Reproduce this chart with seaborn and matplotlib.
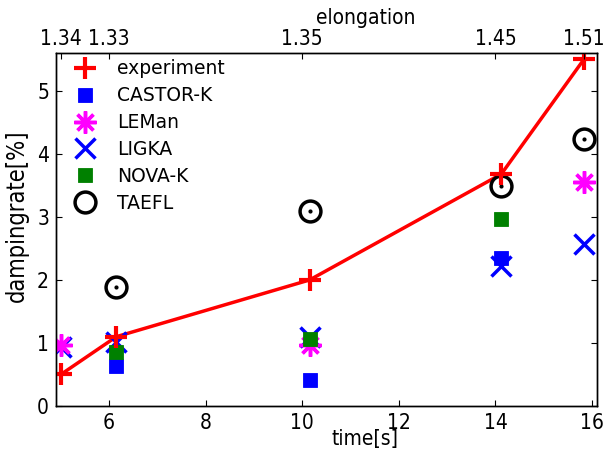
import matplotlib
matplotlib.use("Agg")
import matplotlib.pyplot as plt
import seaborn as sns
import pandas as pd

# ---- data ----
exp_t = [5.0, 6.15, 10.15, 14.12, 15.83]
exp_v = [0.5, 1.1, 2.0, 3.68, 5.5]
castor_t = [6.15, 10.15, 14.12]
castor_v = [0.63, 0.42, 2.35]
leman_t = [5.0, 10.15, 15.83]
leman_v = [0.97, 0.96, 3.55]
ligka_t = [5.0, 6.15, 10.15, 14.12, 15.83]
ligka_v = [0.93, 1.02, 1.1, 2.22, 2.57]
nova_t = [6.15, 10.15, 14.12]
nova_v = [0.86, 1.06, 2.96]
taefl_t = [6.15, 10.15, 14.12, 15.83]
taefl_v = [1.89, 3.09, 3.49, 4.24]
elong_pos = [5.0, 6.0, 10.0, 14.0, 15.83]
elong_labels = ["1.34", "1.33", "1.35", "1.45", "1.51"]

plt.rcParams.update({
    "font.family": ["DejaVu Sans"],
    "font.stretch": "condensed",
    "font.size": 14,
    "xtick.direction": "in",
    "ytick.direction": "in",
    "xtick.major.size": 4,
    "ytick.major.size": 4,
    "xtick.major.pad": 5,
    "ytick.major.pad": 5,
    "axes.linewidth": 1.0,
    "axes.edgecolor": "black",
})

fig = plt.figure(figsize=(6.06, 4.5), dpi=100)
ax = fig.add_axes([0.0924, 0.0978, 0.8926, 0.7842])

df_exp = pd.DataFrame({"t": exp_t, "v": exp_v})
sns.lineplot(data=df_exp, x="t", y="v", ax=ax, color="red", lw=2.5,
             legend=False, zorder=2)

def pts(t, v, label, **kw):
    d = pd.DataFrame({"t": t, "v": v})
    sns.lineplot(data=d, x="t", y="v", ax=ax, label=label, linestyle="none", **kw)

pts(exp_t, exp_v, "experiment", marker="+", markersize=16, markeredgewidth=3,
    color="red", markeredgecolor="red", zorder=5)
pts(castor_t, castor_v, "CASTOR-K", marker="s", markersize=9.5, markeredgewidth=0.6,
    color="blue", markeredgecolor="blue", markerfacecolor="blue", zorder=3)
pts(leman_t, leman_v, "LEMan", marker=(8, 2, 0), markersize=16, markeredgewidth=2.5,
    color="magenta", markeredgecolor="magenta", zorder=4)
pts(ligka_t, ligka_v, "LIGKA", marker="x", markersize=14, markeredgewidth=2.5,
    color="blue", markeredgecolor="blue", zorder=3)
pts(nova_t, nova_v, "NOVA-K", marker="s", markersize=9.5, markeredgewidth=0.6,
    color="green", markeredgecolor="green", markerfacecolor="green", zorder=4)
pts(taefl_t, taefl_v, "TAEFL", marker="o", markersize=15, markeredgewidth=2.5,
    color="black", markeredgecolor="black", markerfacecolor="none", zorder=4)
d_dot = pd.DataFrame({"t": taefl_t, "v": taefl_v})
sns.lineplot(data=d_dot, x="t", y="v", ax=ax, linestyle="none", marker="o",
             markersize=3, markeredgewidth=0, color="black", markerfacecolor="black",
             legend=False, zorder=4)

ax.set_xlim(4.9, 16.1)
ax.set_ylim(0, 5.6)
ax.set_xticks([6, 8, 10, 12, 14, 16])
ax.set_yticks([0, 1, 2, 3, 4, 5])
ax.set_xlabel("time[s]", fontsize=15)
ax.set_ylabel("dampingrate[%]", fontsize=17)
ax.xaxis.set_label_coords(0.571, -0.065)
ax.yaxis.set_label_coords(-0.05, 0.54)
ax.tick_params(top=True, right=True, labelsize=15)

leg = ax.legend(loc="upper left", bbox_to_anchor=(0.011, 1.006), frameon=False,
                numpoints=1,
                prop={"family": "DejaVu Sans", "stretch": "normal", "size": 13.5},
                handlelength=1.6, handletextpad=0.9, labelspacing=0.42,
                borderaxespad=0.2, borderpad=0.25)

ax2 = ax.twiny()
ax2.set_xlim(ax.get_xlim())
ax2.set_xticks(elong_pos)
ax2.set_xticklabels(elong_labels)
ax2.tick_params(direction="in", labelsize=15, pad=3)
ax2.set_xlabel("elongation", fontsize=15)
ax2.xaxis.set_label_coords(0.573, 1.082)

fig.savefig("out.png", dpi=100, facecolor="white")
